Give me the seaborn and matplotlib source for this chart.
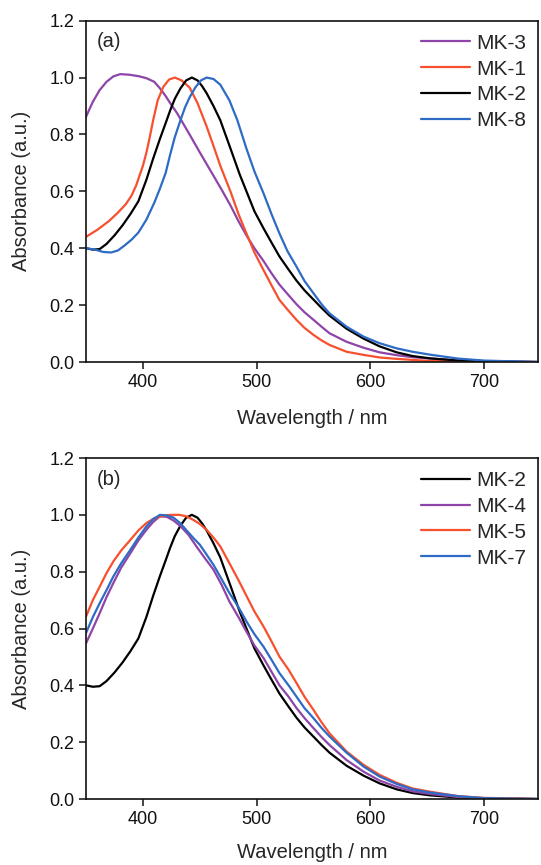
import seaborn as sns
import pandas as pd
import matplotlib.pyplot as plt

sns.set_theme(style="ticks")
plt.rcParams['font.family'] = ['Liberation Sans', 'DejaVu Sans']

# ---- panel (a) ----
mk3_wl = [350, 356, 362, 368, 374, 380, 388, 396, 403, 410, 415, 420, 424, 430, 441, 451, 462, 470, 477, 484,
          491, 498, 506, 513, 520, 528, 535, 542, 550, 557, 564, 579, 594, 608, 623, 637, 652, 677, 700, 747]
mk3_abs = [0.862, 0.915, 0.956, 0.985, 1.004, 1.012, 1.01, 1.005, 0.998, 0.985, 0.962, 0.935, 0.91, 0.875, 0.80,
           0.73, 0.655, 0.60, 0.55, 0.495, 0.445, 0.40, 0.355, 0.312, 0.272, 0.235, 0.203, 0.175, 0.148, 0.124,
           0.101, 0.071, 0.05, 0.034, 0.024, 0.017, 0.012, 0.006, 0.003, 0.0]

mk1_wl = [350, 360, 370, 378, 385, 390, 394, 397, 400, 403, 406, 409, 413, 418, 423, 428, 434, 441, 448, 456,
          462, 468, 477, 484, 491, 498, 506, 513, 520, 528, 535, 542, 550, 557, 564, 579, 594, 608, 623, 650,
          700, 747]
mk1_abs = [0.44, 0.465, 0.495, 0.525, 0.555, 0.585, 0.62, 0.655, 0.69, 0.735, 0.79, 0.85, 0.92, 0.968, 0.993,
           1.0, 0.99, 0.965, 0.91, 0.828, 0.76, 0.69, 0.599, 0.52, 0.452, 0.385, 0.323, 0.27, 0.218, 0.18, 0.148,
           0.12, 0.095, 0.076, 0.06, 0.036, 0.025, 0.016, 0.011, 0.004, 0.0, 0.0]

mk2_wl = [350, 356, 362, 368, 375, 382, 389, 396, 403, 409, 415, 420, 424, 428, 433, 438, 443, 448, 452, 456,
          462, 468, 477, 485, 491, 498, 506, 513, 520, 528, 535, 542, 550, 557, 564, 579, 594, 608, 623, 637,
          652, 677, 700, 747]
mk2_abs = [0.40, 0.395, 0.397, 0.415, 0.445, 0.48, 0.52, 0.565, 0.64, 0.715, 0.785, 0.84, 0.885, 0.925, 0.962,
           0.99, 1.0, 0.99, 0.97, 0.945, 0.90, 0.85, 0.75, 0.66, 0.60, 0.53, 0.47, 0.42, 0.371, 0.325, 0.286,
           0.252, 0.219, 0.19, 0.163, 0.117, 0.082, 0.055, 0.034, 0.021, 0.013, 0.005, 0.002, 0.0]

mk8_wl = [350, 358, 365, 372, 378, 384, 390, 396, 403, 410, 415, 420, 424, 428, 433, 437, 441, 446, 451, 456,
          462, 468, 476, 483, 491, 498, 506, 513, 520, 527, 535, 542, 550, 557, 564, 579, 594, 608, 623, 637,
          652, 677, 700, 747]
mk8_abs = [0.40, 0.395, 0.387, 0.385, 0.392, 0.41, 0.43, 0.455, 0.50, 0.56, 0.61, 0.665, 0.73, 0.79, 0.85, 0.895,
           0.93, 0.965, 0.99, 1.0, 0.995, 0.975, 0.92, 0.85, 0.75, 0.67, 0.593, 0.52, 0.452, 0.39, 0.335, 0.285,
           0.241, 0.203, 0.171, 0.124, 0.089, 0.066, 0.048, 0.036, 0.026, 0.012, 0.005, 0.0]

# ---- panel (b) ----
mk5_wl = [350, 356, 362, 368, 374, 381, 389, 396, 403, 410, 418, 425, 432, 438, 444, 450, 456, 462, 468, 476,
          484, 491, 498, 506, 513, 520, 528, 535, 542, 550, 557, 564, 579, 594, 608, 623, 637, 652, 677, 700, 747]
mk5_abs = [0.642, 0.70, 0.747, 0.795, 0.836, 0.875, 0.912, 0.945, 0.971, 0.988, 0.997, 1.0, 1.0, 0.995, 0.983,
           0.968, 0.947, 0.92, 0.889, 0.83, 0.77, 0.715, 0.66, 0.607, 0.555, 0.501, 0.455, 0.408, 0.36, 0.313,
           0.27, 0.231, 0.167, 0.12, 0.085, 0.057, 0.037, 0.026, 0.01, 0.004, 0.0]

mk4_wl = [350, 356, 362, 368, 374, 381, 389, 396, 403, 409, 415, 421, 427, 433, 440, 447, 454, 462, 469, 476,
          484, 491, 498, 506, 513, 520, 528, 535, 542, 550, 557, 564, 579, 594, 608, 623, 637, 652, 677, 700, 747]
mk4_abs = [0.548, 0.60, 0.654, 0.71, 0.76, 0.815, 0.865, 0.91, 0.947, 0.975, 0.995, 0.993, 0.98, 0.96, 0.93,
           0.889, 0.85, 0.807, 0.755, 0.695, 0.64, 0.589, 0.54, 0.496, 0.448, 0.40, 0.36, 0.32, 0.285, 0.249,
           0.218, 0.19, 0.137, 0.096, 0.065, 0.043, 0.027, 0.018, 0.007, 0.002, 0.0]

mk7_wl = [350, 356, 362, 368, 374, 381, 389, 396, 403, 409, 415, 421, 427, 433, 438, 444, 450, 456, 462, 469,
          476, 484, 491, 498, 506, 513, 520, 528, 535, 542, 550, 557, 564, 579, 594, 608, 623, 637, 652, 677,
          700, 747]
mk7_abs = [0.584, 0.64, 0.689, 0.735, 0.783, 0.83, 0.877, 0.92, 0.959, 0.985, 1.0, 0.998, 0.99, 0.97, 0.947,
           0.92, 0.895, 0.86, 0.824, 0.775, 0.725, 0.675, 0.625, 0.58, 0.536, 0.49, 0.443, 0.40, 0.36, 0.32,
           0.284, 0.25, 0.22, 0.163, 0.114, 0.079, 0.053, 0.034, 0.023, 0.01, 0.003, 0.0]

colors = {'MK-3': '#8E44A8', 'MK-1': '#F7502E', 'MK-2': '#000000', 'MK-8': '#2D6BC4',
          'MK-4': '#8E44A8', 'MK-5': '#F7502E', 'MK-7': '#2D6BC4'}


def to_df(series):
    parts = [pd.DataFrame({'Wavelength': wl, 'Absorbance': a, 'Sample': name})
             for name, wl, a in series]
    return pd.concat(parts, ignore_index=True)


df_a = to_df([('MK-3', mk3_wl, mk3_abs), ('MK-1', mk1_wl, mk1_abs),
              ('MK-2', mk2_wl, mk2_abs), ('MK-8', mk8_wl, mk8_abs)])
df_b = to_df([('MK-2', mk2_wl, mk2_abs), ('MK-4', mk4_wl, mk4_abs),
              ('MK-5', mk5_wl, mk5_abs), ('MK-7', mk7_wl, mk7_abs)])

fig = plt.figure(figsize=(5.41, 8.65), dpi=100)
ax_a = fig.add_axes([0.159, 0.5815, 0.835, 0.3946])
ax_b = fig.add_axes([0.159, 0.0763, 0.835, 0.3942])

panels = [(ax_a, df_a, ['MK-3', 'MK-1', 'MK-2', 'MK-8'], '(a)', 13),
          (ax_b, df_b, ['MK-2', 'MK-4', 'MK-5', 'MK-7'], '(b)', 11)]

for ax, df, order, tag, xpad in panels:
    sns.lineplot(data=df, x='Wavelength', y='Absorbance', hue='Sample', hue_order=order,
                 palette=colors, sort=False, estimator=None, lw=1.6, ax=ax)
    ax.set_xlim(350, 747)
    ax.set_ylim(0, 1.2)
    ax.set_xticks([400, 500, 600, 700])
    ax.set_yticks([0.0, 0.2, 0.4, 0.6, 0.8, 1.0, 1.2])
    ax.set_yticklabels(['0.0', '0.2', '0.4', '0.6', '0.8', '1.0', '1.2'])
    ax.tick_params(direction='out', length=5, width=1.1, labelsize=13, pad=3.5, colors='#111111')
    for sp in ax.spines.values():
        sp.set_color('#111111')
        sp.set_linewidth(1.2)
    ax.set_xlabel('Wavelength / nm', fontsize=14.5, labelpad=xpad)
    ax.set_ylabel('Absorbance (a.u.)', fontsize=14.5, labelpad=13)
    ax.text(0.024, 0.938, tag, transform=ax.transAxes, fontsize=14.5, va='center', ha='left')
    sns.move_legend(ax, 'upper right', bbox_to_anchor=(0.975, 0.962), frameon=False, title=None,
                    fontsize=15, handlelength=2.35, handletextpad=0.3, labelspacing=0.33,
                    borderaxespad=0, borderpad=0)
    for h in ax.get_legend().legend_handles:
        h.set_linewidth(1.6)

fig.savefig('out.png', dpi=100)
